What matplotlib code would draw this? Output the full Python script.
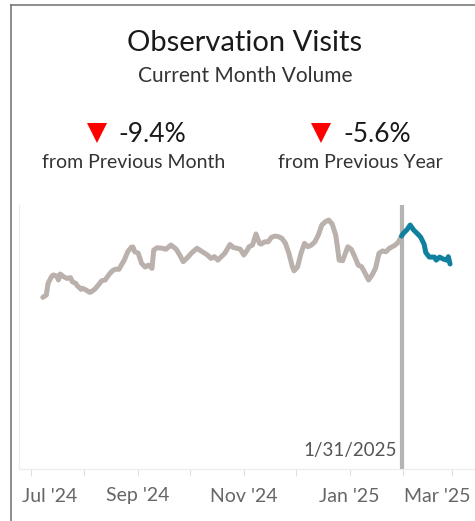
"""Observation Visits: current month volume sparkline card."""

import matplotlib
matplotlib.use("Agg")
import matplotlib.pyplot as plt
import matplotlib.dates as mdates
import matplotlib.transforms as mtrans
from matplotlib.lines import Line2D
import pandas as pd

plt.rcParams["font.family"] = ["Lato", "DejaVu Sans"]

# ---- data ----
START = pd.Timestamp("2024-07-01")

# days since 2024-07-01, history up to 1/31/2025
hist_days = [7, 9, 10, 12, 13, 15, 16, 17, 19, 21,
             23, 24, 26, 27, 28, 29, 30, 32, 34, 35,
             37, 39, 41, 43, 45, 47, 49, 51, 52, 54,
             56, 58, 59, 60, 62, 64, 66, 68, 69, 70,
             71, 73, 76, 78, 81, 84, 86, 88, 90, 93,
             96, 99, 102, 104, 106, 108, 110, 112, 115, 117,
             119, 121, 123, 125, 126, 128, 130, 132, 133, 135,
             137, 139, 141, 143, 145, 147, 149, 151, 152, 154,
             156, 158, 160, 162, 164, 166, 168, 170, 172, 174,
             176, 177, 178, 180, 183, 185, 187, 189, 191, 193,
             195, 197, 199, 201, 203, 205, 207, 210, 212, 214]
hist_visits = [89.0, 90.2, 96.3, 99.8, 100.7, 100.2, 98.1, 101.2, 99.8, 98.9,
               99.3, 97.2, 96.3, 94.9, 94.2, 93.2, 93.7, 92.8, 91.6, 91.9,
               93.3, 95.4, 97.7, 98.1, 100.7, 102.8, 103.8, 103.7, 105.4, 108.5,
               112.9, 115.2, 115.4, 112.9, 112.2, 106.8, 104.9, 105.9, 105.0, 104.2,
               113.8, 115.0, 114.7, 114.2, 116.4, 114.2, 111.2, 107.7, 109.4, 112.4,
               114.7, 112.9, 111.2, 109.4, 110.3, 108.5, 110.3, 112.1, 116.7, 115.1,
               114.7, 114.2, 111.2, 113.8, 115.5, 116.4, 122.2, 117.3, 116.9, 118.1,
               118.1, 120.5, 121.1, 120.8, 119.9, 117.3, 112.1, 105.0, 102.9, 105.0,
               112.1, 117.3, 115.5, 116.4, 118.1, 121.7, 126.9, 128.6, 129.5, 127.4,
               121.7, 115.5, 108.5, 108.2, 115.5, 114.2, 110.3, 105.9, 105.0, 101.6,
               98.1, 100.7, 104.2, 112.1, 113.3, 112.9, 114.7, 116.2, 117.7, 121.1]

# current month (February 2025)
cur_days = [214, 215, 217, 219, 221, 223, 225, 227, 228, 230,
            233, 234, 236, 238, 240, 241, 242]
cur_visits = [121.1, 122.5, 124.3, 126.9, 124.3, 122.5, 120.6, 116.9, 112.5, 110.1,
              110.1, 108.5, 110.1, 109.1, 108.5, 110.3, 106.5]

cutoff_date = pd.Timestamp("2025-01-31")
cutoff_label = "1/31/2025"

title = "Observation Visits"
subtitle = "Current Month Volume"
kpi_values = ["-9.4%", "-5.6%"]
kpi_labels = ["from Previous Month", "from Previous Year"]

tick_dates = pd.date_range("2024-07-01", "2025-03-01", freq="MS")
label_dates = pd.date_range("2024-07-01", "2025-03-01", freq="2MS")

hist_x = START + pd.to_timedelta(hist_days, unit="D")
cur_x = START + pd.to_timedelta(cur_days, unit="D")

# ---- figure ----
W, H = 475, 521
fig = plt.figure(figsize=(W / 100, H / 100), dpi=100, facecolor="white")


def fx(px):
    return px / W


def fy(py):
    return 1 - py / H


# card border (left and top edges only visible)
fig.add_artist(Line2D([fx(11), fx(11)], [fy(5), 0], transform=fig.transFigure,
                      color="#7a7a7a", lw=1.2))
fig.add_artist(Line2D([fx(11), 1], [fy(5), fy(5)], transform=fig.transFigure,
                      color="#7a7a7a", lw=1.2))

fig.text(fx(245), fy(43), title, ha="center", va="center",
         fontsize=21, color="#1a1a1a")
fig.text(fx(245), fy(76), subtitle, ha="center", va="center",
         fontsize=15, color="#333333")

for i, (val, lab) in enumerate(zip(kpi_values, kpi_labels)):
    tri_x = [97, 321][i]
    val_x = [118, 343][i]
    lab_x = [134, 360][i]
    fig.add_artist(Line2D([fx(tri_x)], [fy(133)], transform=fig.transFigure,
                          marker="v", markersize=14.5, color="#ff0000",
                          markeredgewidth=0, linestyle="none"))
    fig.text(fx(val_x), fy(134), val, ha="left", va="center",
             fontsize=19, color="#1a1a1a")
    fig.text(fx(lab_x), fy(163), lab, ha="center", va="center",
             fontsize=14, color="#333333")

# ---- line chart ----
ax = fig.add_axes([fx(19), fy(469), 1 - fx(19), fy(205) - fy(469)])
ax.plot(hist_x, hist_visits, color="#bab0ac", lw=3.6,
        solid_capstyle="round", solid_joinstyle="round")
ax.plot(cur_x, cur_visits, color="#11809f", lw=3.6,
        solid_capstyle="round", solid_joinstyle="round")
ax.axvline(cutoff_date, color="#b4b4b4", lw=3, zorder=0)
ax.text(cutoff_date - pd.Timedelta(days=2.5), 4, cutoff_label, ha="right",
        va="bottom", fontsize=13.5, color="#555555")

ax.set_ylim(-1, 137.4)
ax.set_xlim(START - pd.Timedelta(days=6.75), START + pd.Timedelta(days=256.4))

for side in ["top", "right"]:
    ax.spines[side].set_visible(False)
for side in ["left", "bottom"]:
    ax.spines[side].set_color("#ececec")
    ax.spines[side].set_linewidth(0.8)
ax.set_yticks([])

ax.set_xticks(tick_dates)
ax.set_xticklabels([""] * len(tick_dates))
ax.tick_params(axis="x", length=5, width=0.8, color="#e0e0e0")

# month labels every other month, nudged at the ends like the source
shifts = {0: 19, len(label_dates) - 1: -15}
for i, d in enumerate(label_dates):
    trans = ax.get_xaxis_transform() + mtrans.ScaledTranslation(
        shifts.get(i, 0) / 100, -27 / 100, fig.dpi_scale_trans)
    ax.text(mdates.date2num(d), 0, d.strftime("%b '%y"), transform=trans,
            ha="center", va="center", fontsize=14, color="#666666")

fig.savefig("out.png", dpi=100, facecolor="white")
